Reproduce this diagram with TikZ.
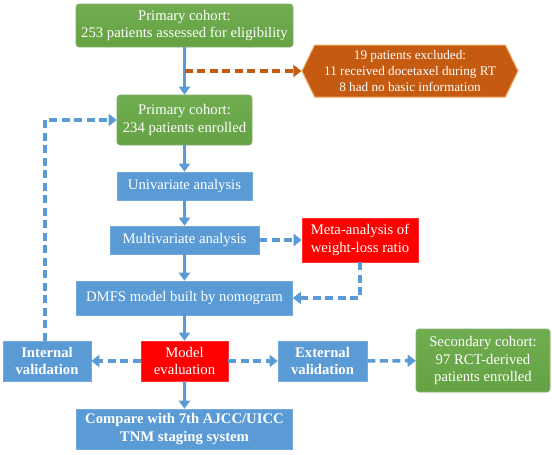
\documentclass[tikz,border=0pt]{standalone}
\usepackage{fontspec}
\setmainfont{Liberation Serif}
\usetikzlibrary{arrows.meta,shapes.symbols}
\definecolor{bblue}{RGB}{91,155,213}
\definecolor{bgreen}{RGB}{101,162,68}
\definecolor{bgreenl}{RGB}{112,173,80}
\definecolor{bgreend}{RGB}{84,140,56}
\definecolor{bred}{RGB}{255,0,0}
\definecolor{borange}{RGB}{197,90,17}
\definecolor{borangel}{RGB}{240,170,100}
\tikzset{
  box/.style={text=white, align=center, inner sep=0pt, font=\fontsize{14.7}{17.7}\selectfont},
  bluebox/.style={box, fill=bblue, draw=bblue!85!white, line width=0.6pt},
  redbox/.style={box, fill=bred, draw=bred!80!white, line width=0.6pt},
  greenbox/.style={box, top color=bgreenl, bottom color=bgreen, draw=bgreend!70!white, line width=0.6pt, rounded corners=3pt},
  hexbox/.style={box, signal, signal to=west and east, signal pointer angle=128, fill=borange, draw=borangel, line width=1pt, font=\fontsize{13.2}{16}\selectfont},
  solidarrow/.style={draw=bblue, line width=3pt, -{Triangle[length=8pt,width=11pt]}},
  dasharrow/.style={draw=bblue, line width=3.5pt, dash pattern=on 8pt off 4.5pt, -{Triangle[length=8pt,width=12pt]}},
  orangearrow/.style={dasharrow, draw=borange},
}
\begin{document}
\begin{tikzpicture}[x=1pt,y=-1pt]
\fill[white] (0,0) rectangle (552,455);
\useasboundingbox (0,0) rectangle (552,455);

\node[greenbox, minimum width=217pt, minimum height=43pt] (b1) at (184.5,25.5) {Primary cohort:\\253 patients assessed for eligibility};
\node[greenbox, minimum width=135pt, minimum height=50pt] (b2) at (184.5,120) {Primary cohort:\\234 patients enrolled};
\node[hexbox, minimum width=216pt, minimum height=52pt] (hex) at (410,71) {19 patients excluded:\\11 received docetaxel during RT\\8 had no basic information};
\node[bluebox, minimum width=135pt, minimum height=28pt] (uni) at (184.5,186) {Univariate analysis};
\node[bluebox, minimum width=149pt, minimum height=28pt] (multi) at (184.5,240) {Multivariate analysis};
\node[redbox, minimum width=116pt, minimum height=44pt] (meta) at (360,240) {Meta-analysis of\\weight-loss ratio};
\node[bluebox, minimum width=216pt, minimum height=34pt] (dmfs) at (184.5,298) {DMFS model built by nomogram};
\node[bluebox, minimum width=88pt, minimum height=40pt, font=\fontsize{14.7}{17.7}\selectfont\bfseries] (int) at (47,361) {Internal\\validation};
\node[redbox, minimum width=87pt, minimum height=40pt] (model) at (184.5,361) {Model\\evaluation};
\node[bluebox, minimum width=89pt, minimum height=40pt, font=\fontsize{14.7}{17.7}\selectfont\bfseries] (ext) at (322.5,361) {External\\validation};
\node[greenbox, minimum width=134pt, minimum height=63pt] (sec) at (483,360.5) {Secondary cohort:\\97 RCT-derived\\patients enrolled};
\node[bluebox, minimum width=216pt, minimum height=40pt, font=\fontsize{14.7}{17.7}\selectfont\bfseries] (cmp) at (184.5,429) {Compare with 7th AJCC/UICC\\TNM staging system};

\coordinate (split) at (184.5,71);

\draw[solidarrow] (b1) -- (b2);
\draw[orangearrow] (split) -- (hex.west);
\draw[solidarrow] (b2) -- (uni);
\draw[solidarrow] (uni) -- (multi);
\draw[solidarrow] (multi) -- (dmfs);
\draw[dasharrow] (multi) -- (meta);
\draw[dasharrow] (meta.south) |- (dmfs.east);
\draw[solidarrow] (dmfs) -- (model);
\draw[solidarrow] (model) -- (cmp);
\draw[dasharrow] (model) -- (int);
\draw[dasharrow] (model) -- (ext);
\draw[dasharrow] (ext) -- (sec);
\draw[dasharrow] ([xshift=-2pt]int.north) |- (b2.west);
\end{tikzpicture}
\end{document}
